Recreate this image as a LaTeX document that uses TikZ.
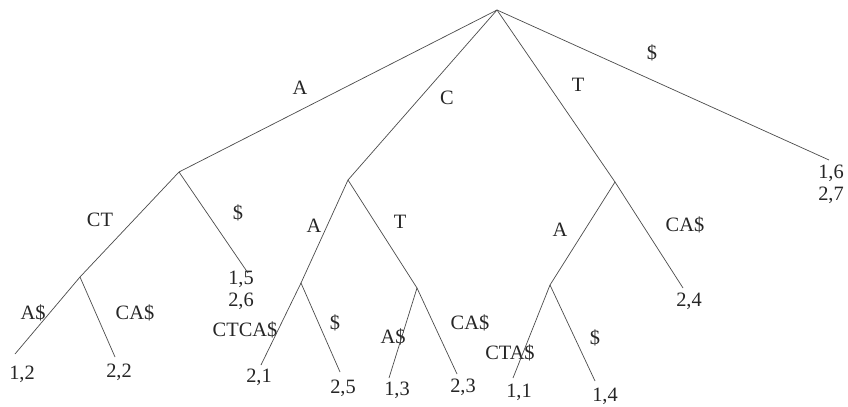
\documentclass[tikz,border=0pt]{standalone}
\usepackage{fontspec}
\setmainfont{Liberation Serif}
\usepackage{tikz}

\begin{document}
\begin{tikzpicture}[
  x=0.025cm,
  y=-0.025cm,
  edge/.style={
    draw=black!70,
    line width=0.5pt
  },
  lab/.style={
    inner sep=0pt,
    text=black!85,
    font=\fontsize{14.5}{15.5}\selectfont
  },
  leaf/.style={
    inner sep=0pt,
    align=center,
    text=black!85,
    font=\fontsize{14.5}{15.5}\selectfont
  }
]
\path[fill=white,use as bounding box] (0,0) rectangle (848,407);

\coordinate (root) at (497,10);
\coordinate (nA) at (179,172);
\coordinate (nC) at (348,180);
\coordinate (nT) at (615,182);
\coordinate (nACT) at (80,277);
\coordinate (nCA) at (301,283);
\coordinate (nCT) at (417,288);
\coordinate (nTA) at (550,285);

\coordinate (e12) at (15,354);
\coordinate (e22) at (115,357);
\coordinate (e15) at (248,273);
\coordinate (e21) at (261,365);
\coordinate (e25) at (340,372);
\coordinate (e13) at (389,378);
\coordinate (e23) at (457,374);
\coordinate (e11) at (513,378);
\coordinate (e14) at (595,381);
\coordinate (e24) at (683,288);
\coordinate (e16) at (829,160);

\node[leaf] (leaf12) at (22,374) {1,2};
\node[leaf] (leaf22) at (119,372) {2,2};
\node[leaf] (leaf15) at (241,290) {1,5\\2,6};
\node[leaf] (leaf21) at (259,377) {2,1};
\node[leaf] (leaf25) at (343,388) {2,5};
\node[leaf] (leaf13) at (397,390) {1,3};
\node[leaf] (leaf23) at (463,387) {2,3};
\node[leaf] (leaf11) at (519,392) {1,1};
\node[leaf] (leaf14) at (605,396) {1,4};
\node[leaf] (leaf24) at (689,301) {2,4};
\node[leaf] (leaf16) at (831,184) {1,6\\2,7};

\node[lab] (labA) at (300,88) {A};
\node[lab] (labC) at (447,98) {C};
\node[lab] (labT) at (578,85) {T};
\node[lab] (labD) at (652,53) {\$};
\node[lab] (labACT) at (100,220) {CT};
\node[lab] (labAD) at (238,213) {\$};
\node[lab] (labACTA) at (33,313) {A\$};
\node[lab] (labACTC) at (135,313) {CA\$};
\node[lab] (labCA) at (314,226) {A};
\node[lab] (labCT) at (400,222) {T};
\node[lab] (labCAC) at (245,330) {CTCA\$};
\node[lab] (labCAD) at (335,323) {\$};
\node[lab] (labCTA) at (393,337) {A\$};
\node[lab] (labCTC) at (470,323) {CA\$};
\node[lab] (labTA) at (560,230) {A};
\node[lab] (labTC) at (685,225) {CA\$};
\node[lab] (labTAC) at (510,353) {CTA\$};
\node[lab] (labTAD) at (595,338) {\$};

\draw[edge] (root) -- (nA);
\draw[edge] (root) -- (nC);
\draw[edge] (root) -- (nT);
\draw[edge] (root) -- (e16);
\draw[edge] (nA) -- (nACT);
\draw[edge] (nA) -- (e15);
\draw[edge] (nACT) -- (e12);
\draw[edge] (nACT) -- (e22);
\draw[edge] (nC) -- (nCA);
\draw[edge] (nC) -- (nCT);
\draw[edge] (nCA) -- (e21);
\draw[edge] (nCA) -- (e25);
\draw[edge] (nCT) -- (e13);
\draw[edge] (nCT) -- (e23);
\draw[edge] (nT) -- (nTA);
\draw[edge] (nT) -- (e24);
\draw[edge] (nTA) -- (e11);
\draw[edge] (nTA) -- (e14);
\end{tikzpicture}
\end{document}
